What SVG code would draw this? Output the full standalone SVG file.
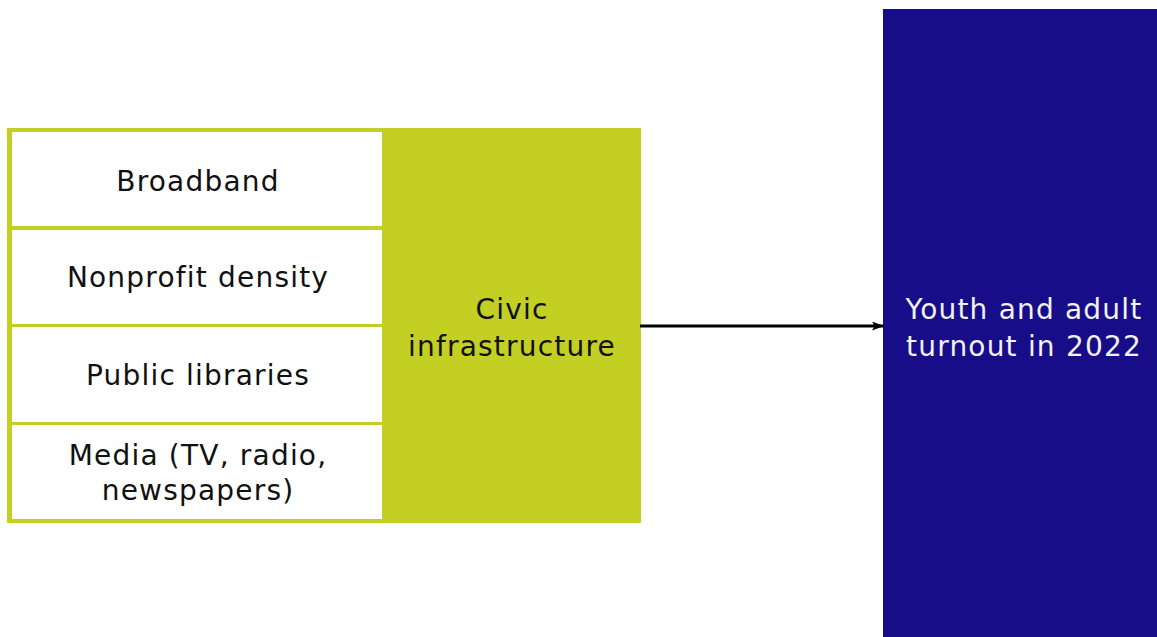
<svg xmlns="http://www.w3.org/2000/svg" width="1157" height="637" viewBox="0 0 1157 637">
  <style>
    .lbl { font-family: "DejaVu Sans", "Liberation Sans", sans-serif; font-size: 28px; letter-spacing: 1.2px; text-anchor: middle; fill: #111111; }
    .lbl-light { fill: #f2f2f8; }
    .cell { fill: #ffffff; }
    .green { fill: #c3cf22; }
    .blue { fill: #180d88; }
  </style>
  <defs>
    <marker id="arrowhead" markerWidth="12" markerHeight="9" refX="12" refY="4.5" orient="auto" markerUnits="userSpaceOnUse">
      <path d="M0,0 L12,4.5 L0,9 L2.5,4.5 Z" fill="#000000"/>
    </marker>
  </defs>

  <rect width="1157" height="637" fill="#ffffff"/>

  <!-- civic infrastructure group -->
  <g id="civic-infrastructure">
    <rect class="green" x="7" y="128" width="634" height="395"/>
    <text class="lbl" x="512" y="319">Civic</text>
    <text class="lbl" x="512" y="356">infrastructure</text>
  </g>

  <g id="broadband">
    <rect class="cell" x="12" y="132" width="370" height="94"/>
    <text class="lbl" x="198" y="191">Broadband</text>
  </g>

  <g id="nonprofit-density">
    <rect class="cell" x="12" y="230" width="370" height="94"/>
    <text class="lbl" x="198" y="287">Nonprofit density</text>
  </g>

  <g id="public-libraries">
    <rect class="cell" x="12" y="327" width="370" height="95"/>
    <text class="lbl" x="198" y="385">Public libraries</text>
  </g>

  <g id="media">
    <rect class="cell" x="12" y="425" width="370" height="94"/>
    <text class="lbl" x="198" y="465">Media (TV, radio,</text>
    <text class="lbl" x="198" y="500">newspapers)</text>
  </g>

  <!-- outcome -->
  <g id="turnout">
    <rect class="blue" x="883" y="9" width="274" height="628"/>
    <text class="lbl lbl-light" x="1024" y="319">Youth and adult</text>
    <text class="lbl lbl-light" x="1024" y="356">turnout in 2022</text>
  </g>

  <!-- connectors -->
  <g id="connectors">
    <line x1="640" y1="326" x2="884" y2="326" stroke="#000000" stroke-width="3" marker-end="url(#arrowhead)"/>
  </g>
</svg>
